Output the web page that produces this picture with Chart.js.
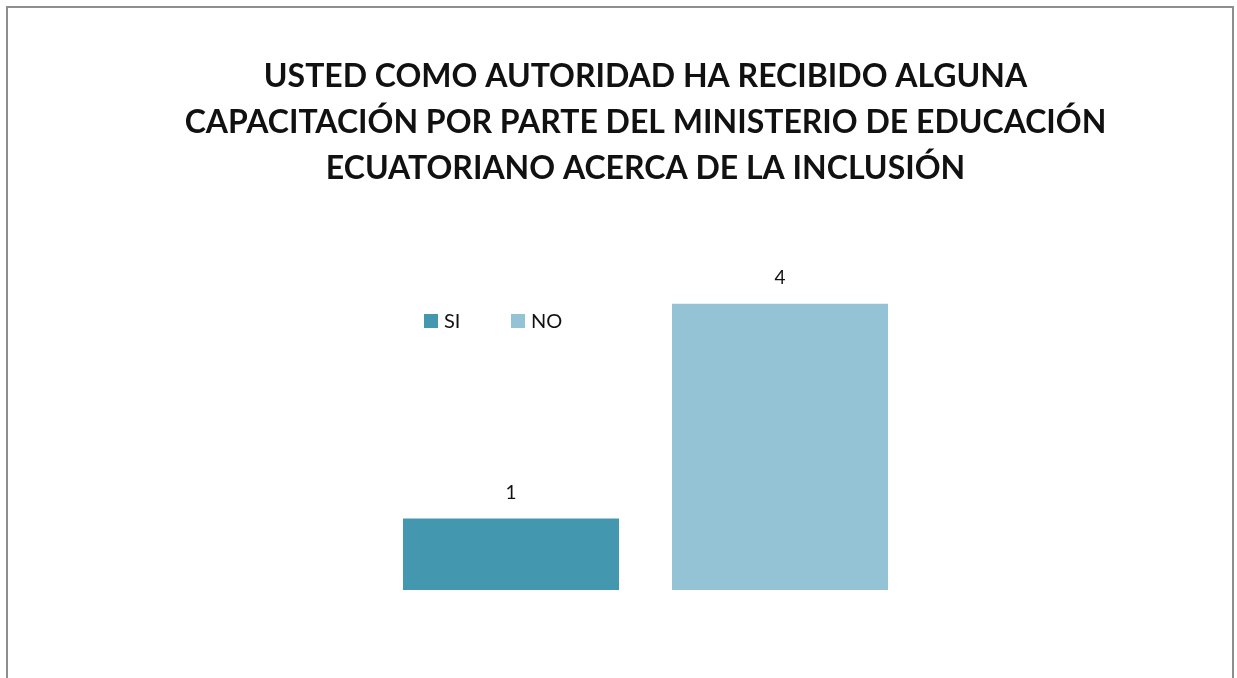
<!DOCTYPE html>
<html>
<head>
<meta charset="utf-8">
<script src="https://cdn.jsdelivr.net/npm/chart.js@4/dist/chart.umd.min.js"></script>
<style>
  html, body { margin: 0; padding: 0; background: #fff; }
  #wrap { width: 1237px; height: 678px; }
</style>
</head>
<body>
<div id="wrap"><canvas id="capacitacionChart" width="1237" height="678"></canvas></div>
<script>
// data
const categories = [''];
const seriesNames = ['SI', 'NO'];
const siValues = [1];
const noValues = [4];
const titleLines = [
    'USTED COMO AUTORIDAD HA RECIBIDO ALGUNA',
    'CAPACITACIÓN POR PARTE DEL MINISTERIO DE EDUCACIÓN',
    'ECUATORIANO ACERCA DE LA INCLUSIÓN'
];
const barColors = ['#4398B0', '#93C3D5'];
const fontFamily = 'Lato, "Open Sans", sans-serif';

// frame around the chart
const framePlugin = {
    id: 'frame',
    afterDraw(chart) {
        const ctx = chart.ctx;
        ctx.save();
        ctx.strokeStyle = '#8e8e8e';
        ctx.lineWidth = 2;
        ctx.strokeRect(7, 7, 1226, 700);
        ctx.restore();
    }
};

// values above each bar
const valueLabels = {
    id: 'valueLabels',
    afterDatasetsDraw(chart) {
        const ctx = chart.ctx;
        ctx.save();
        ctx.font = '19px ' + fontFamily;
        ctx.fillStyle = '#111';
        ctx.textAlign = 'center';
        ctx.textBaseline = 'bottom';
        chart.data.datasets.forEach((ds, i) => {
            chart.getDatasetMeta(i).data.forEach((bar, j) => {
                ctx.fillText(String(ds.data[j]), bar.x, bar.y - 16);
            });
        });
        ctx.restore();
    }
};

// legend drawn inside the plot
const insideLegend = {
    id: 'insideLegend',
    afterDraw(chart) {
        const ctx = chart.ctx;
        ctx.save();
        ctx.font = '20px ' + fontFamily;
        ctx.textBaseline = 'middle';
        const y = 321;
        let x = 424;
        chart.data.datasets.forEach(ds => {
            ctx.fillStyle = ds.backgroundColor;
            ctx.fillRect(x, y - 7, 14, 14);
            ctx.fillStyle = '#111';
            ctx.fillText(ds.label, x + 20, y + 1);
            x += 87;
        });
        ctx.restore();
    }
};

new Chart(document.getElementById('capacitacionChart').getContext('2d'), {
    type: 'bar',
    data: {
        labels: categories,
        datasets: [{
            label: seriesNames[0],
            data: siValues,
            backgroundColor: barColors[0]
        }, {
            label: seriesNames[1],
            data: noValues,
            backgroundColor: barColors[1]
        }]
    },
    options: {
        responsive: false,
        animation: false,
        categoryPercentage: 0.4548,
        barPercentage: 0.803,
        layout: {
            padding: { top: 20, left: 54, right: 0, bottom: 88 }
        },
        plugins: {
            legend: { display: false },
            tooltip: { enabled: false },
            title: {
                display: true,
                text: titleLines,
                color: '#111',
                font: { family: fontFamily, size: 32, weight: 'bold', lineHeight: 1.45 },
                padding: { top: 33, bottom: 40 }
            }
        },
        scales: {
            x: { display: false },
            y: { display: false, min: 0, max: 5 }
        }
    },
    plugins: [framePlugin, valueLabels, insideLegend]
});
</script>
</body>
</html>
